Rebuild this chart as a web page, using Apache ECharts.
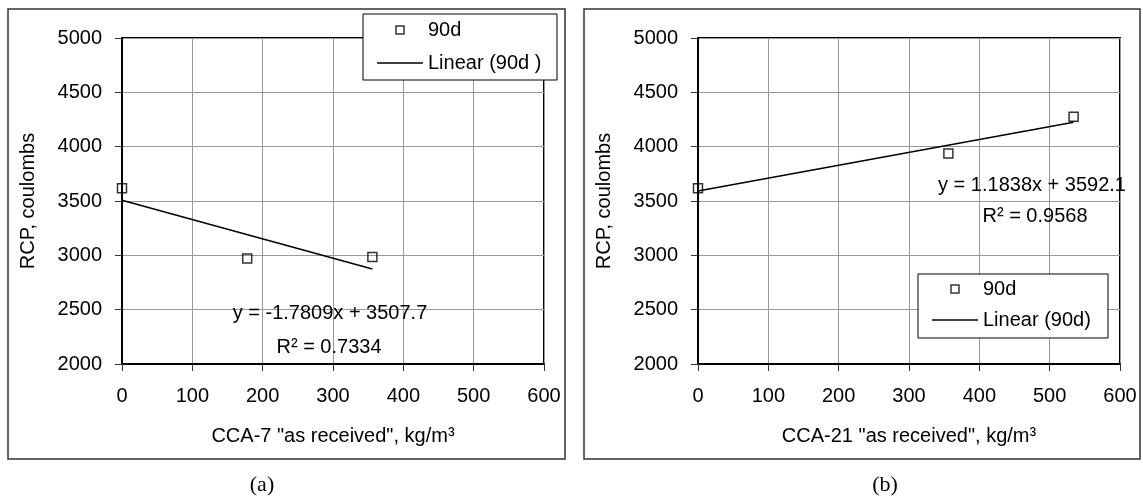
<!DOCTYPE html>
<html>
<head>
<meta charset="utf-8">
<script src="https://cdn.jsdelivr.net/npm/echarts@6/dist/echarts.min.js"></script>
<style>
  html, body { margin: 0; padding: 0; background: #fff; }
  #chart { width: 1143px; height: 497px; }
</style>
</head>
<body>
<div id="chart"></div>
<script>
// Rapid chloride permeability at 90 days vs. admixture dosage
const xRange = [0, 600, 100];      // min, max, step (kg/m3)
const yRange = [2000, 5000, 500];  // min, max, step (coulombs)

// (a) CCA-7
const cca7Dose = [0, 178, 356];
const cca7Rcp = [3618, 2970, 2984];
const cca7Fit = { slope: -1.7809, intercept: 3507.7, r2: 0.7334 };

// (b) CCA-21
const cca21Dose = [0, 356, 534];
const cca21Rcp = [3618, 3936, 4276];
const cca21Fit = { slope: 1.1838, intercept: 3592.1, r2: 0.9568 };

const FONT = '"Liberation Sans", Arial, Helvetica, sans-serif';
const SERIF = '"Liberation Serif", "Times New Roman", serif';

function pairs(xs, ys) { return xs.map((x, i) => [x, ys[i]]); }
function trend(fit, xs) {
  const lo = Math.min(...xs), hi = Math.max(...xs);
  return [[lo, fit.intercept + fit.slope * lo], [hi, fit.intercept + fit.slope * hi]];
}
function eqText(fit) {
  const sign = fit.intercept < 0 ? '- ' : '+ ';
  return 'y = ' + fit.slope.toFixed(4) + 'x ' + sign + Math.abs(fit.intercept).toFixed(1);
}
function r2Text(fit) { return 'R\u00B2 = ' + fit.r2.toFixed(4); }
const plain = v => String(v);

function xAxisOf(idx, name) {
  return {
    type: 'value', gridIndex: idx,
    min: xRange[0], max: xRange[1], interval: xRange[2],
    name: name, nameLocation: 'middle', nameGap: 62,
    nameTextStyle: { fontSize: 20, color: '#000', fontFamily: FONT },
    axisLine: { show: true, onZero: false, lineStyle: { color: '#000', width: 2 } },
    axisTick: { show: true, length: 7, lineStyle: { color: '#333', width: 1 } },
    axisLabel: { fontSize: 20, color: '#000', fontFamily: FONT, margin: 22, formatter: plain },
    splitLine: { show: true, lineStyle: { color: '#999', width: 1 } }
  };
}
function yAxisOf(idx) {
  return {
    type: 'value', gridIndex: idx,
    min: yRange[0], max: yRange[1], interval: yRange[2],
    name: 'RCP, coulombs', nameLocation: 'middle', nameGap: 84, nameRotate: 90,
    nameTextStyle: { fontSize: 20, color: '#000', fontFamily: FONT },
    axisLine: { show: true, onZero: false, lineStyle: { color: '#000', width: 2 } },
    axisTick: { show: true, length: 7, lineStyle: { color: '#333', width: 1 } },
    axisLabel: { fontSize: 20, color: '#000', fontFamily: FONT, margin: 20, formatter: plain },
    splitLine: { show: true, lineStyle: { color: '#999', width: 1 } }
  };
}

const markerStyle = { color: 'rgba(0,0,0,0)', borderColor: '#000', borderWidth: 1.5 };
const squareIcon = 'path://M0,0H10V10H0Z';
const lineIcon = 'path://M0,0H46V1.5H0Z';

function scatterOf(idx, xs, ys) {
  return {
    type: 'scatter', name: '90d', xAxisIndex: idx, yAxisIndex: idx,
    symbol: 'rect', symbolSize: 9, itemStyle: markerStyle,
    data: pairs(xs, ys), z: 4, silent: true
  };
}
function trendOf(idx, name, fit, xs) {
  return {
    type: 'line', name: name, xAxisIndex: idx, yAxisIndex: idx,
    symbol: 'none', showSymbol: false,
    lineStyle: { color: '#000', width: 1.5 }, itemStyle: { color: '#000' },
    data: trend(fit, xs), z: 3, silent: true
  };
}
function legendOf(left, top, gap, lineName) {
  return {
    orient: 'vertical', left: left, top: top, padding: 0,
    itemWidth: 46, itemHeight: 8, itemGap: gap, selectedMode: false, z: 10,
    textStyle: { fontSize: 20, lineHeight: 20, color: '#000', fontFamily: FONT },
    data: [
      { name: '90d', icon: squareIcon, itemStyle: markerStyle },
      { name: lineName, icon: lineIcon, itemStyle: { color: '#000', borderWidth: 0 } }
    ]
  };
}
function text(str, x, y, font) {
  return {
    type: 'text', x: x, y: y, z: 6, silent: true,
    style: { text: str, fill: '#000', font: font || ('20px ' + FONT),
             textAlign: 'center', textVerticalAlign: 'middle', align: 'center', verticalAlign: 'middle' }
  };
}
function box(x, y, w, h, stroke, lw, fill, z) {
  return {
    type: 'rect', z: z, silent: true,
    shape: { x: x, y: y, width: w, height: h },
    style: { fill: fill, stroke: stroke, lineWidth: lw }
  };
}

const chart = echarts.init(document.getElementById('chart'), null, { renderer: 'canvas' });
chart.setOption({
  backgroundColor: '#fff',
  animation: false,
  grid: [
    { left: 122, top: 38, width: 422, height: 326, show: true, borderColor: '#000', borderWidth: 2, backgroundColor: 'transparent' },
    { left: 698, top: 38, width: 422, height: 326, show: true, borderColor: '#000', borderWidth: 2, backgroundColor: 'transparent' }
  ],
  xAxis: [
    xAxisOf(0, 'CCA-7 "as received", kg/m\u00B3'),
    xAxisOf(1, 'CCA-21 "as received", kg/m\u00B3')
  ],
  yAxis: [yAxisOf(0), yAxisOf(1)],
  legend: [
    legendOf(377, 20, 13, 'Linear (90d )'),
    legendOf(932, 279, 11, 'Linear (90d)')
  ],
  series: [
    trendOf(0, 'Linear (90d )', cca7Fit, cca7Dose),
    scatterOf(0, cca7Dose, cca7Rcp),
    trendOf(1, 'Linear (90d)', cca21Fit, cca21Dose),
    scatterOf(1, cca21Dose, cca21Rcp)
  ],
  graphic: {
    elements: [
      box(8, 9, 557, 450, '#333', 1.5, 'transparent', 1),
      box(584, 9, 556, 450, '#333', 1.5, 'transparent', 1),
      box(363, 14, 194, 66, '#000', 1, '#fff', 5),
      box(918, 274, 190, 64, '#000', 1, '#fff', 5),
      text(eqText(cca7Fit), 330, 313),
      text(r2Text(cca7Fit), 329, 347),
      text(eqText(cca21Fit), 1032, 185),
      text(r2Text(cca21Fit), 1035, 216),
      text('(a)', 262, 485, '22px ' + SERIF),
      text('(b)', 885, 485, '22px ' + SERIF)
    ]
  }
});
</script>
</body>
</html>
